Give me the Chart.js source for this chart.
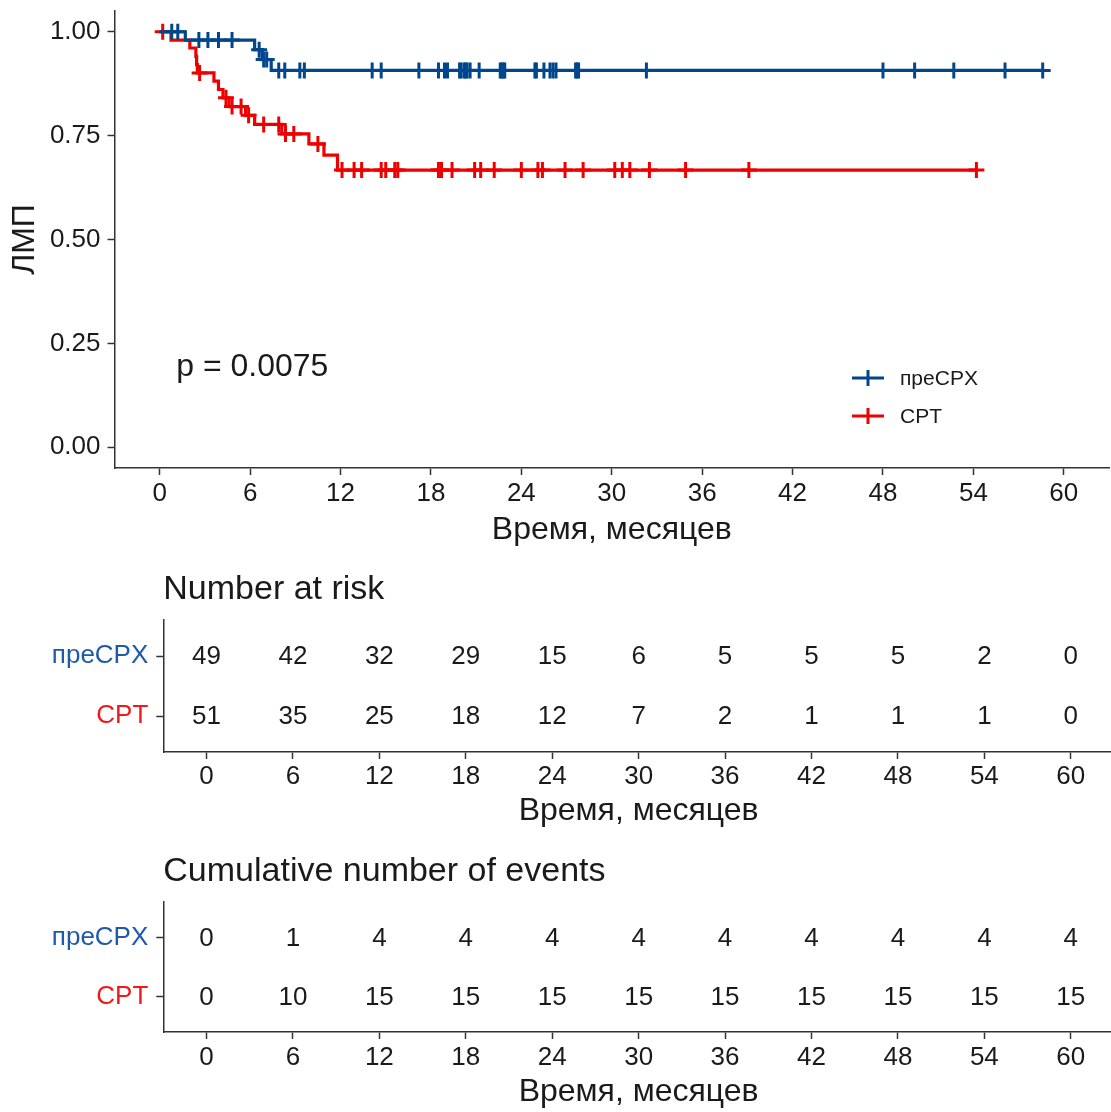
<!DOCTYPE html>
<html>
<head>
<meta charset="utf-8">
<script src="https://cdn.jsdelivr.net/npm/chart.js@4"></script>
<style>
  html, body { margin: 0; padding: 0; background: #fff; overflow: hidden; }
  body { width: 1111px; height: 1112px; position: relative; }
  canvas { position: absolute; left: 0; }
</style>
</head>
<body>
<canvas id="km" width="1120" height="560" style="top:0"></canvas>
<canvas id="risk" width="1120" height="280" style="top:560px"></canvas>
<canvas id="events" width="1120" height="272" style="top:840px"></canvas>
<script>
  // группы и цвета (Lancet-подобная палитра)
  const GROUPS = ['преCPX', 'CPT'];
  const COLORS = ['#00468B', '#ED0000'];
  const FONT = '"Liberation Sans", Arial, sans-serif';
  const INK = '#1a1a1a';
  const AXIS = '#333333';

  // ступени КМ: момент события -> ЛМП после него; последняя точка = конец наблюдения
  const preStepTime = [0, 1.7, 6.3, 6.8, 7.4, 58.6];
  const preStepSurv = [1.0, 0.980, 0.957, 0.933, 0.907, 0.907];
  const preCensor = [0.8, 1.2, 2.6, 3.2, 3.9, 4.8, 6.6, 6.9, 7.1, 7.9, 8.3, 9.3, 9.6,
    14.1, 14.7, 17.2, 18.5, 18.9, 19.1, 19.9, 20.0, 20.2, 20.3, 20.4, 20.6, 21.2,
    22.6, 22.7, 22.8, 22.9, 24.9, 25.0, 25.5, 25.9, 26.1, 26.3, 27.6, 27.7, 27.8,
    32.3, 48.0, 50.1, 52.7, 56.1, 58.6];

  const crtStepTime = [0, 0.75, 2.0, 2.4, 2.45, 2.5, 3.6, 3.9, 4.2, 4.6, 5.7, 6.3, 8.1, 9.9, 10.9, 11.8, 54.2];
  const crtStepSurv = [1.0, 0.980, 0.961, 0.941, 0.921, 0.901, 0.881, 0.861, 0.841, 0.820, 0.799, 0.777, 0.754, 0.730, 0.703, 0.667, 0.667];
  const crtCensor = [0.2, 2.65, 4.4, 4.8, 5.4, 5.9, 6.9, 7.9, 8.35, 8.9, 10.5,
    12.1, 12.9, 13.4, 14.7, 15.0, 15.6, 15.8, 18.5, 18.7, 19.4, 20.9, 21.3, 22.2,
    24.0, 25.1, 25.4, 26.9, 28.1, 30.2, 30.7, 31.2, 32.5, 34.9, 39.1, 54.2];

  const xTicks = [0, 6, 12, 18, 24, 30, 36, 42, 48, 54, 60];
  const yTicks = [0, 0.25, 0.5, 0.75, 1];
  const pvalText = 'p = 0.0075';
  const pvalPos = [1.1, 0.192];

  // таблицы под графиком
  const tableTimes = [0, 6, 12, 18, 24, 30, 36, 42, 48, 54, 60];
  const riskPre = [49, 42, 32, 29, 15, 6, 5, 5, 5, 2, 0];
  const riskCrt = [51, 35, 25, 18, 12, 7, 2, 1, 1, 1, 0];
  const eventsPre = [0, 1, 4, 4, 4, 4, 4, 4, 4, 4, 4];
  const eventsCrt = [0, 10, 15, 15, 15, 15, 15, 15, 15, 15, 15];

  function stepValue(times, surv, t) {
    let s = surv[0];
    for (let i = 0; i < times.length; i++) if (times[i] <= t) s = surv[i];
    return s;
  }
  const pts = (xs, ys) => xs.map((x, i) => ({ x, y: ys[i] }));
  const censPts = (cens, times, surv) => cens.map(t => ({ x: t, y: stepValue(times, surv, t) }));

  const fixedTicks = vals => scale => { scale.ticks = vals.map(v => ({ value: v })); };
  function fitTo(w, h) {
    return scale => {
      if (w != null) scale.width = w;
      if (h != null) scale.height = h;
      scale.paddingTop = scale.paddingBottom = scale.paddingLeft = scale.paddingRight = 0;
    };
  }
  const grid = { drawOnChartArea: false, drawTicks: true, tickLength: 7, tickColor: AXIS, tickWidth: 1.5 };
  const border = { display: true, color: AXIS, width: 1.5 };

  function xAxis(height, tickPad, titlePad) {
    return {
      type: 'linear', min: -3, max: 63,
      afterBuildTicks: fixedTicks(xTicks), afterFit: fitTo(null, height),
      ticks: { font: { family: FONT, size: 26 }, color: INK, padding: tickPad, maxRotation: 0 },
      grid, border,
      title: { display: true, text: 'Время, месяцев', color: INK,
        font: { family: FONT, size: 32 }, padding: { top: 0, bottom: titlePad } }
    };
  }

  const pvalPlugin = {
    id: 'pval',
    afterDatasetsDraw(chart) {
      const { ctx, scales: { x, y } } = chart;
      ctx.save();
      ctx.font = `32px ${FONT}`;
      ctx.fillStyle = INK;
      ctx.textAlign = 'left';
      ctx.textBaseline = 'middle';
      ctx.fillText(pvalText, x.getPixelForValue(pvalPos[0]), y.getPixelForValue(pvalPos[1]));
      ctx.restore();
    }
  };

  // легенда как в ggplot: линия с крестиком
  const legendPlugin = {
    id: 'kmLegend',
    afterDraw(chart) {
      const ctx = chart.ctx;
      ctx.save();
      GROUPS.forEach((g, i) => {
        const y = 378 + i * 38;
        ctx.strokeStyle = COLORS[i];
        ctx.lineWidth = 3;
        ctx.beginPath(); ctx.moveTo(852, y); ctx.lineTo(884, y); ctx.stroke();
        ctx.beginPath(); ctx.moveTo(868, y - 8); ctx.lineTo(868, y + 8); ctx.stroke();
        ctx.font = `21px ${FONT}`;
        ctx.fillStyle = INK;
        ctx.textAlign = 'left';
        ctx.textBaseline = 'middle';
        ctx.fillText(g, 900, y + 1);
      });
      ctx.restore();
    }
  };

  new Chart(document.getElementById('km'), {
    type: 'line',
    data: {
      datasets: [
        { type: 'scatter', label: GROUPS[0] + ' cens', data: censPts(preCensor, preStepTime, preStepSurv),
          pointStyle: 'cross', pointRadius: 8, borderColor: COLORS[0], borderWidth: 3, showLine: false, order: 0 },
        { label: GROUPS[0], data: pts(preStepTime, preStepSurv), stepped: 'before',
          borderColor: COLORS[0], borderWidth: 3.2, pointRadius: 0, fill: false, order: 1 },
        { type: 'scatter', label: GROUPS[1] + ' cens', data: censPts(crtCensor, crtStepTime, crtStepSurv),
          pointStyle: 'cross', pointRadius: 8, borderColor: COLORS[1], borderWidth: 3, showLine: false, order: 2 },
        { label: GROUPS[1], data: pts(crtStepTime, crtStepSurv), stepped: 'before',
          borderColor: COLORS[1], borderWidth: 3.2, pointRadius: 0, fill: false, order: 3 }
      ]
    },
    options: {
      responsive: false, animation: false, devicePixelRatio: 1,
      layout: { padding: { top: 9, right: 6.5, left: 0, bottom: 0 } },
      plugins: { legend: { display: false }, tooltip: { enabled: false } },
      scales: {
        x: xAxis(92, 3.4, 11),
        y: {
          type: 'linear', min: -0.05, max: 1.05,
          afterBuildTicks: fixedTicks(yTicks), afterFit: fitTo(114.5, null),
          ticks: { font: { family: FONT, size: 26 }, color: INK, padding: 7, callback: v => v.toFixed(2) },
          grid, border,
          title: { display: true, text: 'ЛМП', color: INK, font: { family: FONT, size: 32 }, padding: { top: 6, bottom: 0 } }
        }
      }
    },
    plugins: [pvalPlugin, legendPlugin]
  });

  function makeTable(id, title, preVals, crtVals, topPad, xHeight, tickPad, titlePad, titleY) {
    const rowData = (vals, row) => tableTimes.map((t, i) => ({ x: t, y: row, v: vals[i] }));
    const textPlugin = {
      id: 'tableText',
      afterDatasetsDraw(chart) {
        const ctx = chart.ctx;
        ctx.save();
        ctx.fillStyle = INK;
        ctx.textAlign = 'center';
        ctx.textBaseline = 'middle';
        ctx.font = `26px ${FONT}`;
        chart.data.datasets.forEach((ds, di) => {
          chart.getDatasetMeta(di).data.forEach((el, i) => {
            ctx.fillText(String(ds.data[i].v), el.x, el.y + 1);
          });
        });
        ctx.font = `34px ${FONT}`;
        ctx.textAlign = 'left';
        ctx.fillText(title, chart.chartArea.left, titleY);
        ctx.restore();
      }
    };
    new Chart(document.getElementById(id), {
      type: 'scatter',
      data: {
        datasets: [
          { label: GROUPS[0], data: rowData(preVals, 2), pointRadius: 0 },
          { label: GROUPS[1], data: rowData(crtVals, 1), pointRadius: 0 }
        ]
      },
      options: {
        responsive: false, animation: false, devicePixelRatio: 1,
        layout: { padding: { top: topPad, right: 6, left: 0, bottom: 0 } },
        plugins: { legend: { display: false }, tooltip: { enabled: false } },
        scales: {
          x: xAxis(xHeight, tickPad, titlePad),
          y: {
            type: 'linear', min: 0.4, max: 2.6,
            afterBuildTicks: fixedTicks([1, 2]), afterFit: fitTo(163.3, null),
            ticks: {
              font: { family: FONT, size: 26 }, padding: 8,
              color: c => (c.tick && c.tick.value === 2) ? '#1E5AA8' : '#F01818',
              callback: v => v === 2 ? GROUPS[0] : GROUPS[1]
            },
            grid, border
          }
        }
      },
      plugins: [textPlugin]
    });
  }

  makeTable('risk', 'Number at risk', riskPre, riskCrt, 60, 88, 2.4, 9.4, 30);
  makeTable('events', 'Cumulative number of events', eventsPre, eventsCrt, 62, 80, 3.4, 0.4, 32);
</script>
</body>
</html>
